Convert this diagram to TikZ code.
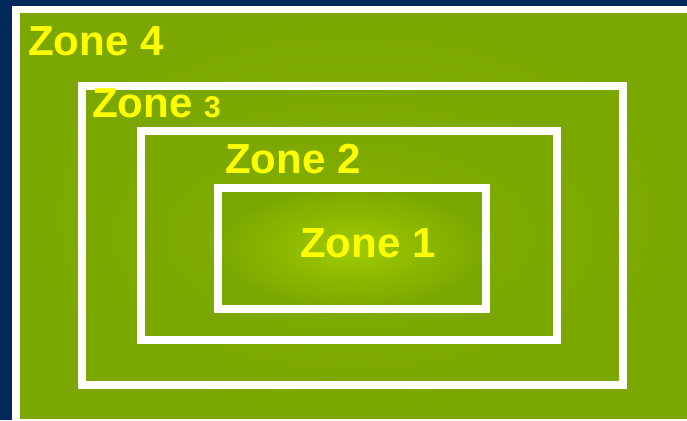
\documentclass[tikz,border=0pt]{standalone}
\usepackage{fontspec}
\setmainfont{Liberation Sans}
\definecolor{navy}{HTML}{00295A}
\definecolor{gedge}{HTML}{7BA800}
\definecolor{gmid}{HTML}{88B300}
\definecolor{gcenter}{HTML}{A0CA00}
\definecolor{zyellow}{HTML}{FFFF00}
\begin{document}
\begin{tikzpicture}[x=1pt,y=-1pt,
  zonebox/.style={draw=white, line width=8pt, shade, shading=radial, inner color=gmid, outer color=gedge, inner sep=0pt, outer sep=0pt},
  zonelabel/.style={anchor=base west, inner sep=0pt, text=zyellow, font=\fontsize{42}{42}\selectfont\bfseries}
]
\useasboundingbox (0,0) rectangle (687,420);
\fill[navy] (0,0) rectangle (687,420);
\fill[white] (12,6) rectangle (687,420);
\shade[inner color=gmid, outer color=gedge] (20,14) rectangle (687,418);
\node (z3) [zonebox, minimum width=541pt, minimum height=299pt] at (352.5,235.5) {};
\node (z2) [zonebox, minimum width=416pt, minimum height=209pt] at (349,235.5) {};
\node (z1) [zonebox, inner color=gcenter, minimum width=268pt, minimum height=120.5pt] at (352,248.25) {};
\node (l4) [zonelabel] at (28,56) {Zone 4};
\node (l3) [zonelabel] at (92,117) {Zone {\fontsize{30}{30}\selectfont 3}};
\node (l2) [zonelabel] at (225,173) {Zone 2};
\node (l1) [zonelabel] at (300,257) {Zone 1};
\end{tikzpicture}
\end{document}
